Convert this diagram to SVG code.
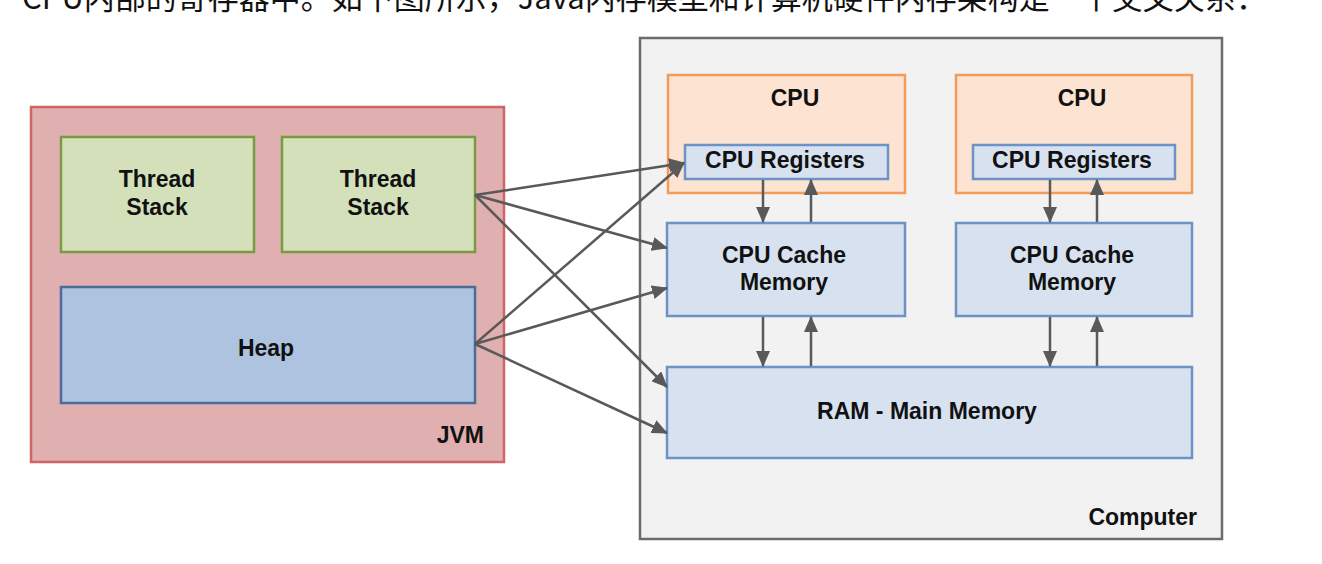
<svg xmlns="http://www.w3.org/2000/svg" width="1322" height="564" viewBox="0 0 1322 564">
<defs>
<style>
.lbl{font-family:"Liberation Sans",Arial,sans-serif;font-weight:bold;font-size:23px;fill:#111;}
.c{text-anchor:middle;}
.r{text-anchor:end;}
.top{font-family:"Noto Sans CJK SC","Noto Sans",sans-serif;font-size:31px;fill:#111;}
.blue{fill:#d7e1ef;stroke:#6d93c6;stroke-width:2.5;}
.cpu{fill:#fce3d2;stroke:#f59b5a;stroke-width:2.5;}
.link{fill:none;stroke:#595959;stroke-width:2.5;marker-end:url(#ah);}
</style>
<marker id="ah" markerUnits="userSpaceOnUse" markerWidth="16" markerHeight="14" refX="15" refY="7" orient="auto">
<path d="M0,0 L16,7 L0,14 Z" fill="#595959"/>
</marker>
</defs>
<rect width="1322" height="564" fill="#ffffff"/>
<text class="top" x="22" y="9">CPU内部的寄存器中。如下图所示，Java内存模型和计算机硬件内存架构是一个交叉关系：</text>

<g id="computer">
<rect x="640" y="38" width="582" height="501" fill="#f2f2f2" stroke="#6b6b6b" stroke-width="2.5"/>
<text class="lbl r" x="1197" y="525">Computer</text>
</g>
<g id="jvm">
<rect x="31" y="107" width="473" height="355" fill="#e0afaf" stroke="#d06466" stroke-width="2.5"/>
<text class="lbl r" x="484" y="443">JVM</text>
</g>
<g id="thread-stack-1">
<rect x="61" y="137" width="193" height="115" fill="#d3e0b9" stroke="#7b9a45" stroke-width="2.5"/>
<text class="lbl c" x="157" y="187">Thread</text>
<text class="lbl c" x="157" y="215">Stack</text>
</g>
<g id="thread-stack-2">
<rect x="282" y="137" width="193" height="115" fill="#d3e0b9" stroke="#7b9a45" stroke-width="2.5"/>
<text class="lbl c" x="378" y="187">Thread</text>
<text class="lbl c" x="378" y="215">Stack</text>
</g>
<g id="heap">
<rect x="61" y="287" width="414" height="116" fill="#adc3df" stroke="#4a6c9b" stroke-width="2.5"/>
<text class="lbl c" x="266" y="356">Heap</text>
</g>
<g id="cpu-1">
<rect class="cpu" x="668" y="75" width="237" height="118"/>
<text class="lbl c" x="795" y="106">CPU</text>
</g>
<g id="cpu-registers-1">
<rect class="blue" x="685" y="145" width="203" height="34"/>
<text class="lbl c" x="785" y="168">CPU Registers</text>
</g>
<g id="cpu-2">
<rect class="cpu" x="956" y="75" width="236" height="118"/>
<text class="lbl c" x="1082" y="106">CPU</text>
</g>
<g id="cpu-registers-2">
<rect class="blue" x="973" y="145" width="202" height="34"/>
<text class="lbl c" x="1072" y="168">CPU Registers</text>
</g>
<g id="cpu-cache-1">
<rect class="blue" x="667" y="223" width="238" height="93"/>
<text class="lbl c" x="784" y="263">CPU Cache</text>
<text class="lbl c" x="784" y="290">Memory</text>
</g>
<g id="cpu-cache-2">
<rect class="blue" x="956" y="223" width="236" height="93"/>
<text class="lbl c" x="1072" y="263">CPU Cache</text>
<text class="lbl c" x="1072" y="290">Memory</text>
</g>
<g id="ram">
<rect class="blue" x="667" y="367" width="525" height="91"/>
<text class="lbl c" x="927" y="419">RAM - Main Memory</text>
</g>

<g id="connectors">
<line class="link" x1="763" y1="180" x2="763" y2="222"/>
<line class="link" x1="811" y1="222" x2="811" y2="180"/>
<line class="link" x1="1050" y1="180" x2="1050" y2="222"/>
<line class="link" x1="1097" y1="222" x2="1097" y2="180"/>
<line class="link" x1="763" y1="317" x2="763" y2="366"/>
<line class="link" x1="811" y1="366" x2="811" y2="317"/>
<line class="link" x1="1050" y1="317" x2="1050" y2="366"/>
<line class="link" x1="1097" y1="366" x2="1097" y2="317"/>
<line class="link" x1="475" y1="195" x2="684" y2="163"/>
<line class="link" x1="475" y1="195" x2="667" y2="248"/>
<line class="link" x1="475" y1="195" x2="667" y2="387"/>
<line class="link" x1="475" y1="344" x2="684" y2="163"/>
<line class="link" x1="475" y1="344" x2="667" y2="288"/>
<line class="link" x1="475" y1="344" x2="667" y2="433"/>
</g>
</svg>
